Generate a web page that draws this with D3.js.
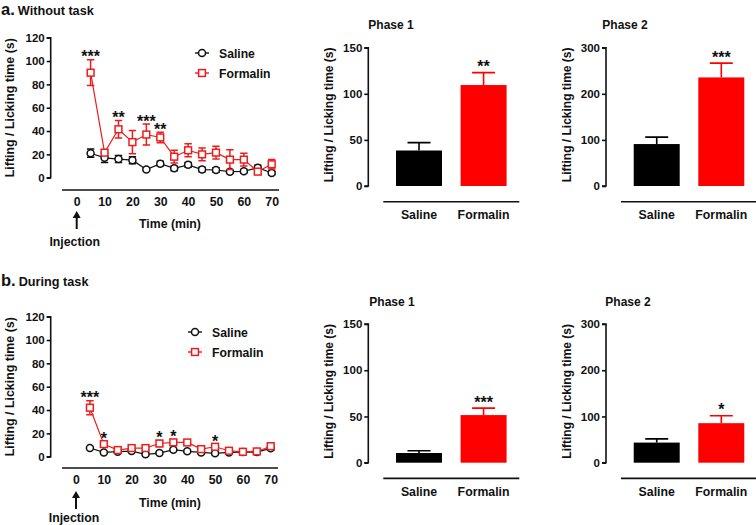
<!DOCTYPE html>
<html><head><meta charset="utf-8">
<script src="https://cdn.jsdelivr.net/npm/d3@7"></script>
<style>body{margin:0;background:#fff}svg{display:block}text{font-family:"Liberation Sans",Arial,sans-serif;font-weight:bold;fill:#111}</style>
</head><body>
<svg id="c" width="756" height="525"></svg>
<script>
// ---------- data ----------
const times = [5,10,15,20,25,30,35,40,45,50,55,60,65,70];
const xTicks = [0,10,20,30,40,50,60,70];
const yTicksLine = [0,20,40,60,80,100,120];
// panel a (without task)
const aSaline    = [21,17,16,15,7,12,8,11,7,6.6,5.2,5.5,8.6,4];
const aSalineErr = [3.5,4,3,3,1,2,2,2,2,2,1.5,1.5,2,1.5];
const aFormalin    = [90,21.5,41.5,30.5,37,34.5,18,23.5,20,21.5,15.5,15.5,5.2,11.5];
const aFormalinErr = [11,2,7.5,10,9,4.5,5.5,5.5,5.5,5.5,8.5,5.5,2,4];
const aStars = [[5,"***"],[15,"**"],[25,"***"],[30,"**"]];
// panel b (during task)
const bSaline    = [7.5,3.7,4.3,4.8,2,3.1,6,4.6,3.7,2.9,3.7,4,4,7.2];
const bSalineErr = [1,1,1,1,1,1,1,1,1,1,1,1,1,1.5];
const bFormalin    = [42,10.8,5.7,7.4,7.4,11.3,12.3,12.2,6.5,8.5,5.1,4.2,4.5,9];
const bFormalinErr = [6,2,1.5,1.5,1.5,2.5,2.5,2,1.5,2,1.5,1,1,2];
const bStars = [[5,"***"],[10,"*"],[30,"*"],[35,"*"],[50,"*"]];
// bar panels
const groups = ["Saline","Formalin"];
const aPhase1 = [38.5,109.5], aPhase1Err = [8.5,13.5];
const aPhase2 = [91,235.5],  aPhase2Err = [15,31];
const bPhase1 = [10.5,51.5], bPhase1Err = [2.5,7.5];
const bPhase2 = [43.5,85.5], bPhase2Err = [8,16];
const barTicks1 = [0,50,100,150];
const barTicks2 = [0,100,200,300];
const aBarStars = ["**","***"];
const bBarStars = ["***","*"];

const RED = "#ee1c1c", RED_BAR = "#ff0000";
const FS = 12.3, TFS = 11.5, SFS = 16;
const svg = d3.select("#c");
const yLabel = "Lifting / Licking time (s)";

function panelTitle(y, letter, txt){
  const t = svg.append("text").attr("x",1).attr("y",y);
  t.append("tspan").attr("font-size",16.5).text(letter);
  t.append("tspan").attr("font-size",12.7).attr("dx",3).text(txt);
}
function styleTicks(sel){
  sel.selectAll(".tick text").attr("font-size",TFS).attr("font-family","Liberation Sans, Arial").attr("font-weight","bold").attr("fill","#111");
}

function lineChart(o){
  const g = svg.append("g");
  const x = d3.scaleLinear().domain([0,70]).range([o.x0,o.x1]);
  const y = d3.scaleLinear().domain([0,120]).range([o.yb,o.yt]);
  const ya = g.append("g").attr("transform",`translate(${o.ax},0)`)
    .call(d3.axisLeft(y).tickValues(yTicksLine).tickSize(4).tickPadding(2));
  ya.select(".domain").attr("stroke","#111").attr("stroke-width",1.6).attr("d",`M-4,${o.yt}H0V${o.yb}H-4`);
  ya.selectAll(".tick line").attr("stroke","#111").attr("stroke-width",1.6);
  styleTicks(ya);
  const xa = g.append("g").attr("transform",`translate(0,${o.xl})`)
    .call(d3.axisBottom(x).tickValues(xTicks).tickSize(0).tickPadding(7));
  xa.select(".domain").attr("stroke","#111").attr("stroke-width",1.6).attr("d",`M${o.lx0},0H${o.lx1}`);
  xa.selectAll(".tick text").attr("font-size",FS).attr("font-family","Liberation Sans, Arial").attr("font-weight","bold").attr("fill","#111");
  g.append("text").attr("transform",`translate(${o.ylx},${(o.yt+o.yb)/2}) rotate(-90)`)
    .attr("text-anchor","middle").attr("font-size",12.4).text(yLabel);
  g.append("text").attr("x",o.tx).attr("y",o.ty).attr("text-anchor","middle").attr("font-size",FS).text("Time (min)");
  const ax = x(0);
  g.append("line").attr("x1",ax).attr("x2",ax).attr("y1",o.arY1).attr("y2",o.arY0+5).attr("stroke","#111").attr("stroke-width",2);
  g.append("path").attr("d",`M${ax-4},${o.arY0+7}L${ax},${o.arY0}L${ax+4},${o.arY0+7}Z`).attr("fill","#111");
  g.append("text").attr("x",ax-2).attr("y",o.injY).attr("text-anchor","middle").attr("font-size",FS).text("Injection");

  function marker(sel,cx,cy,color,shape){
    if(shape==="circle") sel.append("circle").attr("cx",cx).attr("cy",cy).attr("r",3.5).attr("fill","#fff").attr("stroke",color).attr("stroke-width",1.5);
    else sel.append("rect").attr("x",cx-3.4).attr("y",cy-3.4).attr("width",6.8).attr("height",6.8).attr("fill","#fff").attr("stroke",color).attr("stroke-width",1.5);
  }
  function series(vals, errs, color, shape){
    const s = g.append("g");
    s.append("path").datum(vals).attr("fill","none").attr("stroke",color).attr("stroke-width",1.2)
      .attr("d",d3.line().x((d,i)=>x(times[i])).y(d=>y(d)));
    vals.forEach((v,i)=>{
      const cx = x(times[i]);
      s.append("path").attr("d",`M${cx},${y(v-errs[i])}V${y(v+errs[i])}M${cx-3.7},${y(v+errs[i])}H${cx+3.7}M${cx-3.7},${y(v-errs[i])}H${cx+3.7}`)
        .attr("stroke",color).attr("stroke-width",1.5).attr("fill","none");
    });
    vals.forEach((v,i)=>marker(s,x(times[i]),y(v),color,shape));
  }
  series(o.sal,o.salE,"#111","circle");
  series(o.form,o.formE,RED,"square");
  o.stars.forEach(([t,s])=>{
    const i = times.indexOf(t);
    const top = y(o.form[i]+o.formE[i]);
    g.append("text").attr("x",x(t)).attr("y",top+2.5).attr("text-anchor","middle").attr("font-size",SFS).text(s);
  });
  [["Saline","#111","circle",o.lgY],["Formalin",RED,"square",o.lgY+20]].forEach(([n,c,sh,ly])=>{
    g.append("line").attr("x1",o.lgX-7).attr("x2",o.lgX+7).attr("y1",ly).attr("y2",ly).attr("stroke",c).attr("stroke-width",1.4);
    marker(g,o.lgX,ly,c,sh);
    g.append("text").attr("x",o.lgX+17).attr("y",ly+4.5).attr("font-size",12.2).text(n);
  });
}

function barChart(o){
  const g = svg.append("g");
  const y = d3.scaleLinear().domain([0,o.max]).range([o.yb,o.yt]);
  const x = d3.scaleBand().domain(groups).range([o.ax+15,o.ax+151]).paddingInner(0.288).paddingOuter(0.197);
  g.append("text").attr("x",o.titleX).attr("y",o.titleY).attr("text-anchor","middle").attr("font-size",12).text(o.title);
  const ya = g.append("g").attr("transform",`translate(${o.ax},0)`)
    .call(d3.axisLeft(y).tickValues(o.ticks).tickSize(4).tickPadding(2));
  ya.select(".domain").attr("stroke","#111").attr("stroke-width",1.6).attr("d",`M-4,${o.yt}H0V${o.yb}H-4`);
  ya.selectAll(".tick line").attr("stroke","#111").attr("stroke-width",1.6);
  styleTicks(ya);
  g.append("text").attr("transform",`translate(${o.ax-35},${(o.yt+o.yb)/2-2}) rotate(-90)`)
    .attr("text-anchor","middle").attr("font-size",12).text(yLabel);
  const xa = g.append("g").attr("transform",`translate(0,${o.yb+15.7})`)
    .call(d3.axisBottom(x).tickSize(0).tickPadding(9));
  xa.select(".domain").attr("stroke","#111").attr("stroke-width",1.6).attr("d",`M${o.ax+15},0H${o.ax+151}`);
  xa.selectAll(".tick text").attr("font-size",FS).attr("font-family","Liberation Sans, Arial").attr("font-weight","bold").attr("fill","#111");
  const cols = ["#000",RED_BAR];
  groups.forEach((gr,i)=>{
    const cx = x(gr)+x.bandwidth()/2;
    const et = y(o.vals[i]+o.errs[i]);
    g.append("path").attr("d",`M${cx},${y(o.vals[i])}V${et}M${cx-11.5},${et}H${cx+11.5}`).attr("stroke",cols[i]).attr("stroke-width",1.6).attr("fill","none");
    g.append("rect").attr("x",x(gr)).attr("width",x.bandwidth()).attr("y",y(o.vals[i])).attr("height",y(0)-y(o.vals[i])).attr("fill",cols[i]);
  });
  const fx = x("Formalin")+x.bandwidth()/2;
  g.append("text").attr("x",fx).attr("y",y(o.vals[1]+o.errs[1])-0.5).attr("text-anchor","middle").attr("font-size",SFS).text(o.star);
}

panelTitle(15,"a.","Without task");
panelTitle(286,"b.","During task");

lineChart({x0:76.7,x1:271.7,yb:177.7,yt:37.7,ax:50.7,xl:190,lx0:62,lx1:279,ylx:14,tx:170,ty:228,
  arY0:211,arY1:229,injY:246,sal:aSaline,salE:aSalineErr,form:aFormalin,formE:aFormalinErr,stars:aStars,lgX:202,lgY:53});
lineChart({x0:76,x1:270.7,yb:456.7,yt:316.7,ax:50.7,xl:468,lx0:62,lx1:278,ylx:14,tx:170,ty:507,
  arY0:491,arY1:509,injY:522,sal:bSaline,salE:bSalineErr,form:bFormalin,formE:bFormalinErr,stars:bStars,lgX:195,lgY:332});

barChart({ax:368.3,yb:186,yt:47.7,max:150,ticks:barTicks1,vals:aPhase1,errs:aPhase1Err,star:aBarStars[0],title:"Phase 1",titleX:391,titleY:29});
barChart({ax:606,yb:186,yt:47.7,max:300,ticks:barTicks2,vals:aPhase2,errs:aPhase2Err,star:aBarStars[1],title:"Phase 2",titleX:625,titleY:29});
barChart({ax:368.3,yb:462.7,yt:324,max:150,ticks:barTicks1,vals:bPhase1,errs:bPhase1Err,star:bBarStars[0],title:"Phase 1",titleX:392,titleY:306});
barChart({ax:606,yb:462.7,yt:324,max:300,ticks:barTicks2,vals:bPhase2,errs:bPhase2Err,star:bBarStars[1],title:"Phase 2",titleX:628,titleY:306});
</script>
</body></html>
